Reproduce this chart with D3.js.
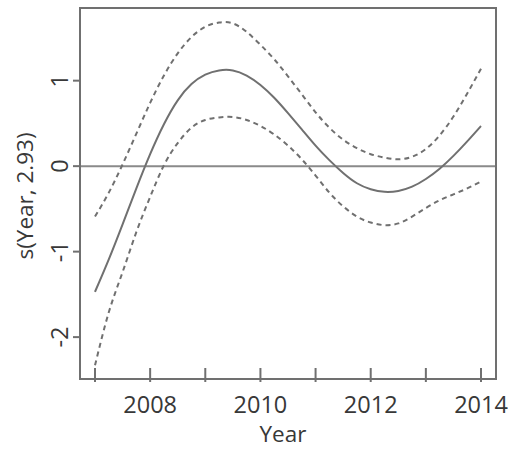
<!DOCTYPE html>
<html>
<head>
<meta charset="utf-8">
<script src="https://cdn.jsdelivr.net/npm/d3@7"></script>
<style>
  body { margin: 0; background: #fff; }
  text { font-family: "Open Sans", sans-serif; fill: #383838; }
</style>
</head>
<body>
<div id="chart"></div>
<script>
// smooth term of Year (gam fit), with +/- 2 se bands
const years = [2007, 2007.25, 2007.5, 2007.75, 2008, 2008.25, 2008.5, 2008.75, 2009,
    2009.25, 2009.5, 2009.75, 2010, 2010.25, 2010.5, 2010.75, 2011, 2011.25, 2011.5,
    2011.75, 2012, 2012.25, 2012.5, 2012.75, 2013, 2013.25, 2013.5, 2013.75, 2014];
const fit = [-1.47, -1.09, -0.68, -0.26, 0.14, 0.49, 0.77, 0.96, 1.07,
    1.12, 1.12, 1.06, 0.95, 0.80, 0.62, 0.43, 0.24, 0.07, -0.08,
    -0.20, -0.27, -0.30, -0.29, -0.24, -0.15, -0.03, 0.12, 0.29, 0.47];
const upper = [-0.59, -0.31, 0.02, 0.38, 0.74, 1.06, 1.32, 1.51, 1.63,
    1.68, 1.67, 1.57, 1.42, 1.25, 1.05, 0.84, 0.63, 0.45, 0.31,
    0.21, 0.14, 0.10, 0.08, 0.11, 0.20, 0.36, 0.58, 0.85, 1.14];
const lower = [-2.33, -1.71, -1.24, -0.77, -0.36, 0.01, 0.27, 0.45, 0.54,
    0.57, 0.575, 0.54, 0.47, 0.37, 0.24, 0.08, -0.11, -0.31, -0.47,
    -0.59, -0.66, -0.69, -0.67, -0.59, -0.49, -0.40, -0.33, -0.26, -0.18];
const rugYears = [2007, 2008, 2009, 2010, 2011, 2012, 2013, 2014];
const xTicks = [2008, 2010, 2012, 2014];
const yTicks = [-2, -1, 0, 1];

const width = 508, height = 450;
const plot = {left: 80, right: 496, top: 8, bottom: 379};
const grey = '#707070';

const svg = d3.select('#chart').append('svg')
    .attr('width', width)
    .attr('height', height);

const x = d3.scaleLinear().domain([2006.728, 2014.272]).range([plot.left, plot.right]);
const y = d3.scaleLinear().domain([-2.49, 1.85]).range([plot.bottom, plot.top]);

const line = d3.line()
    .x(d => x(d[0]))
    .y(d => y(d[1]))
    .curve(d3.curveNatural);

// zero reference line
svg.append('line')
    .attr('x1', plot.left).attr('x2', plot.right)
    .attr('y1', y(0)).attr('y2', y(0))
    .attr('stroke', '#8a8a8a')
    .attr('stroke-width', 2);

const series = [
    {vals: upper, dash: '5,4'},
    {vals: lower, dash: '5,4'},
    {vals: fit, dash: null}
];
series.forEach(s => {
    svg.append('path')
        .datum(years.map((yr, i) => [yr, s.vals[i]]))
        .attr('d', line)
        .attr('fill', 'none')
        .attr('stroke', grey)
        .attr('stroke-width', 2)
        .attr('stroke-dasharray', s.dash);
});

// box
svg.append('rect')
    .attr('x', plot.left).attr('y', plot.top)
    .attr('width', plot.right - plot.left)
    .attr('height', plot.bottom - plot.top)
    .attr('fill', 'none')
    .attr('stroke', grey)
    .attr('stroke-width', 2);

// rug
svg.selectAll('.rug')
    .data(rugYears)
    .enter().append('line')
    .attr('class', 'rug')
    .attr('x1', d => x(d)).attr('x2', d => x(d))
    .attr('y1', plot.bottom - 11).attr('y2', plot.bottom + 3)
    .attr('stroke', grey)
    .attr('stroke-width', 2);

// x axis labels
svg.selectAll('.xlab')
    .data(xTicks)
    .enter().append('text')
    .attr('class', 'xlab')
    .attr('x', d => x(d))
    .attr('y', 413)
    .attr('text-anchor', 'middle')
    .attr('font-size', 23.5)
    .text(d => d);

// y axis ticks + rotated labels
svg.selectAll('.ytick')
    .data(yTicks)
    .enter().append('line')
    .attr('class', 'ytick')
    .attr('x1', plot.left - 7).attr('x2', plot.left)
    .attr('y1', d => y(d)).attr('y2', d => y(d))
    .attr('stroke', grey)
    .attr('stroke-width', 2);

svg.selectAll('.ylab')
    .data(yTicks)
    .enter().append('text')
    .attr('class', 'ylab')
    .attr('transform', d => `translate(68,${y(d)}) rotate(-90)`)
    .attr('text-anchor', 'middle')
    .attr('font-size', 23.5)
    .text(d => d);

// titles
svg.append('text')
    .attr('x', 283)
    .attr('y', 442)
    .attr('text-anchor', 'middle')
    .attr('font-size', 22.5)
    .text('Year');

svg.append('text')
    .attr('transform', 'translate(33,196) rotate(-90)')
    .attr('text-anchor', 'middle')
    .attr('font-size', 22.5)
    .text('s(Year, 2.93)');
</script>
</body>
</html>
